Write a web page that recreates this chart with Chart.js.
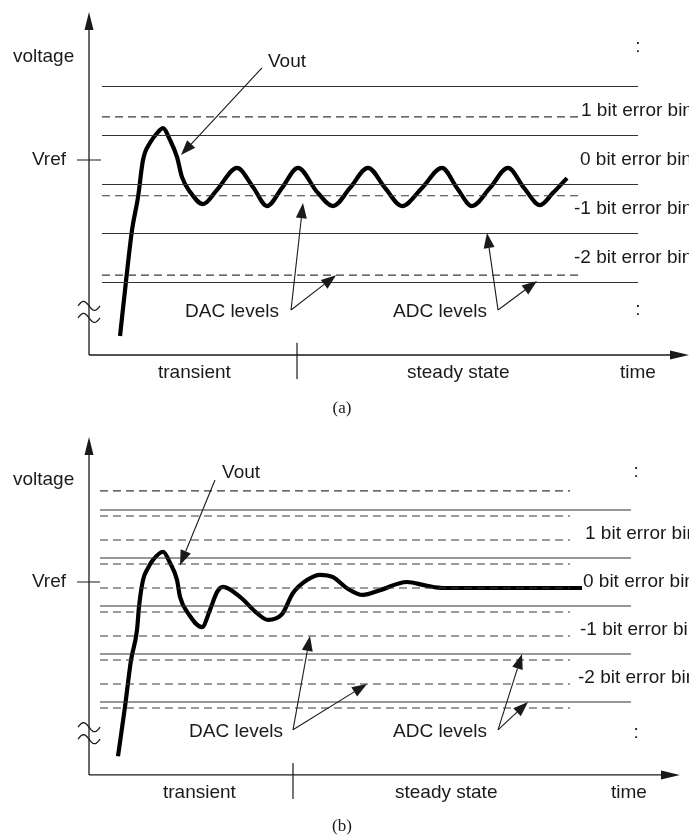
<!DOCTYPE html>
<html>
<head>
<meta charset="utf-8">
<script src="https://cdn.jsdelivr.net/npm/chart.js@4"></script>
<style>
  html, body { margin: 0; padding: 0; background: #fff; }
  canvas { display: block; }
</style>
</head>
<body>
<canvas id="chartA" width="689" height="420"></canvas>
<canvas id="chartB" width="689" height="419"></canvas>
<script>
// Levels in LSB relative to Vref
const adcLevels = [1.5, 0.5, -0.5, -1.5, -2.5];
const dacLevelsA = [0.88, -0.73, -2.35];
const dacLevelsB = [1.9, 1.375, 0.875, 0.375, -0.125, -0.625, -1.125, -1.625, -2.125, -2.625];

const binLabels = ['1 bit error bin', '0 bit error bin', '-1 bit error bin', '-2 bit error bin'];
const binValues = [1, 0, -1, -2];
const phaseLabels = ['transient', 'steady state', 'time'];

// Vout (a): ends up in a limit cycle around the DAC level
const voutTimeA = [5.17, 6.17, 7.17, 8.17, 9.0, 10.17, 11.5, 12.33, 13.5, 14.67, 15.5, 16.83, 19.0, 21.33, 24.67,
    27.33, 29.67, 32.17, 34.83, 38.0, 40.67, 43.5, 46.5, 49.33, 52.17, 55.5, 58.83, 61.33, 63.83, 66.83,
    69.83, 72.5, 75.17, 77.33, 79.67];
const voutA = [-3.59, -2.47, -1.43, -0.76, 0.0, 0.35, 0.57, 0.65, 0.41, 0.06, -0.35, -0.65, -0.90, -0.61, -0.16,
    -0.55, -0.94, -0.57, -0.16, -0.65, -0.94, -0.57, -0.16, -0.57, -0.94, -0.57, -0.16, -0.57, -0.94, -0.57,
    -0.16, -0.57, -0.92, -0.67, -0.37];

// Vout (b): settles on a DAC level
const voutTimeB = [4.83, 6.0, 7.0, 8.0, 8.33, 9.0, 9.83, 10.67, 12.33, 13.5, 14.67, 15.17, 16.5, 18.83, 20.17,
    21.33, 22.33, 25.17, 28.0, 29.83, 32.17, 34.0, 36.33, 38.5, 40.67, 43.0, 45.67, 48.5, 53.0, 56.33,
    59.0, 82.17];
const voutB = [-3.63, -2.60, -1.63, -1.0, -0.52, 0.04, 0.29, 0.46, 0.63, 0.40, 0.04, -0.31, -0.65, -0.94, -0.58,
    -0.21, -0.10, -0.31, -0.65, -0.79, -0.67, -0.23, 0.04, 0.15, 0.10, -0.13, -0.27, -0.17, 0.0, -0.08,
    -0.125, -0.125];

// Placement of axes, labels and arrows (data units)
const layouts = {
    chartA: {
        x: [-89 / 6, 100], y: [-260 / 49, 160 / 49],
        axis: { y0: -3.98, yTop: 3.02, xEnd: 100 },
        levels: { start: 2.17, solidEnd: 91.5, dashEnd: 81.8 },
        vref: [-2, 2],
        binX: [82.0, 81.83, 80.83, 80.83],
        colonX: 91.5, colonY: [2.31, -3.06],
        voltage: [-12.67, 2.10], vrefLabel: -3.83,
        vout: { label: [29.83, 2.0], from: [28.83, 1.88], to: [15.33, 0.10] },
        dac: { label: [16.0, -3.10], from: [33.67, -3.06], to: [[35.67, -0.88], [41.17, -2.35]] },
        adc: { label: [50.67, -3.10], from: [68.17, -3.06], to: [[66.33, -1.49], [74.67, -2.47]] },
        tick: { x: 34.67, y: [-3.73, -4.47] },
        phaseY: -4.35, phaseX: [11.5, 53.0, 88.5],
        caption: ['(a)', 42.17, -5.08],
        breakAt: [0, -3.10]
    },
    chartB: {
        x: [-89 / 6, 100], y: [-257 / 48, 162 / 48],
        axis: { y0: -4.02, yTop: 3.02, xEnd: 98.5 },
        levels: { start: 1.83, solidEnd: 90.33, dashEnd: 80.17 },
        vref: [-2, 1.83],
        binX: [82.67, 82.33, 81.83, 81.5],
        colonX: 91.17, colonY: [2.29, -3.15],
        voltage: [-12.67, 2.125], vrefLabel: -3.83,
        vout: { label: [22.17, 2.27], from: [21.0, 2.125], to: [15.17, 0.35] },
        dac: { label: [16.67, -3.125], from: [34.0, -3.08], to: [[36.83, -1.125], [46.33, -2.125]] },
        adc: { label: [50.67, -3.125], from: [68.17, -3.08], to: [[72.17, -1.5], [73.17, -2.5]] },
        tick: { x: 34.0, y: [-3.77, -4.52] },
        phaseY: -4.40, phaseX: [12.33, 51.0, 87.0],
        caption: ['(b)', 42.17, -5.10],
        breakAt: [0, -3.15]
    }
};

const INK = '#1a1a1a';
const SANS = '19px "Liberation Sans", Arial, sans-serif';

function drawArrow(ctx, x1, y1, x2, y2, len, half, width) {
    const a = Math.atan2(y2 - y1, x2 - x1);
    const bx = x2 - len * Math.cos(a), by = y2 - len * Math.sin(a);
    ctx.lineWidth = width;
    ctx.beginPath();
    ctx.moveTo(x1, y1);
    ctx.lineTo(bx, by);
    ctx.stroke();
    ctx.beginPath();
    ctx.moveTo(x2, y2);
    ctx.lineTo(bx + half * Math.sin(a), by - half * Math.cos(a));
    ctx.lineTo(bx - half * Math.sin(a), by + half * Math.cos(a));
    ctx.closePath();
    ctx.fill();
}

const diagramPlugin = {
    id: 'diagram',
    afterDatasetsDraw(chart) {
        const L = layouts[chart.canvas.id];
        const ctx = chart.ctx;
        const px = t => chart.scales.x.getPixelForValue(t);
        const py = v => chart.scales.y.getPixelForValue(v);
        ctx.save();
        ctx.strokeStyle = INK;
        ctx.fillStyle = INK;
        ctx.lineCap = 'butt';

        // axes
        const ox = px(0), oy = py(L.axis.y0);
        drawArrow(ctx, ox, oy, ox, py(L.axis.yTop), 18, 4.5, 1.3);
        drawArrow(ctx, ox, oy, px(L.axis.xEnd), oy, 19, 4.5, 1.3);

        // Vref tick and phase divider
        ctx.lineWidth = 1.2;
        ctx.beginPath();
        ctx.moveTo(px(L.vref[0]), py(0));
        ctx.lineTo(px(L.vref[1]), py(0));
        ctx.moveTo(px(L.tick.x), py(L.tick.y[0]));
        ctx.lineTo(px(L.tick.x), py(L.tick.y[1]));
        ctx.stroke();

        // axis break
        const bx = px(L.breakAt[0]), by = py(L.breakAt[1]);
        ctx.lineWidth = 1.3;
        [-6, 6].forEach(off => {
            ctx.beginPath();
            for (let i = -11; i <= 11; i++) {
                const yy = by + off + 4.5 * Math.sin(Math.PI * i / 11);
                if (i === -11) ctx.moveTo(bx + i, yy); else ctx.lineTo(bx + i, yy);
            }
            ctx.stroke();
        });

        // annotation arrows
        drawArrow(ctx, px(L.vout.from[0]), py(L.vout.from[1]), px(L.vout.to[0]), py(L.vout.to[1]), 15, 5.5, 1.1);
        [L.dac, L.adc].forEach(g => {
            g.to.forEach(p => drawArrow(ctx, px(g.from[0]), py(g.from[1]), px(p[0]), py(p[1]), 15, 5.5, 1.1));
        });

        // text
        ctx.font = SANS;
        ctx.textBaseline = 'middle';
        ctx.textAlign = 'left';
        ctx.fillText('voltage', px(L.voltage[0]), py(L.voltage[1]));
        ctx.fillText('Vout', px(L.vout.label[0]), py(L.vout.label[1]));
        ctx.fillText('DAC levels', px(L.dac.label[0]), py(L.dac.label[1]));
        ctx.fillText('ADC levels', px(L.adc.label[0]), py(L.adc.label[1]));
        binLabels.forEach((s, i) => ctx.fillText(s, px(L.binX[i]), py(binValues[i])));
        phaseLabels.forEach((s, i) => ctx.fillText(s, px(L.phaseX[i]), py(L.phaseY)));
        ctx.textAlign = 'right';
        ctx.fillText('Vref', px(L.vrefLabel), py(0));
        ctx.textAlign = 'center';
        L.colonY.forEach(v => ctx.fillText(':', px(L.colonX), py(v)));
        ctx.font = '17px "Liberation Serif", "Times New Roman", serif';
        ctx.fillText(L.caption[0], px(L.caption[1]), py(L.caption[2]));
        ctx.restore();
    }
};

function levelSet(v, x0, x1, dashed) {
    return {
        data: [{ x: x0, y: v }, { x: x1, y: v }],
        showLine: true,
        borderColor: dashed ? '#3a3a3a' : '#333',
        borderWidth: 1.2,
        borderDash: dashed ? [8, 5] : [],
        pointRadius: 0,
        clip: false
    };
}

function makePanel(id, dacLevels, times, vout) {
    const L = layouts[id];
    const datasets = [];
    adcLevels.forEach(v => datasets.push(levelSet(v, L.levels.start, L.levels.solidEnd, false)));
    dacLevels.forEach(v => datasets.push(levelSet(v, L.levels.start, L.levels.dashEnd, true)));
    datasets.push({
        data: times.map((t, i) => ({ x: t, y: vout[i] })),
        showLine: true,
        borderColor: '#000',
        borderWidth: 4.2,
        cubicInterpolationMode: 'monotone',
        borderCapStyle: 'butt',
        borderJoinStyle: 'round',
        pointRadius: 0,
        clip: false
    });

    return new Chart(document.getElementById(id).getContext('2d'), {
        type: 'scatter',
        data: { datasets },
        options: {
            responsive: false,
            animation: false,
            events: [],
            layout: { padding: 0 },
            plugins: { legend: { display: false }, tooltip: { enabled: false } },
            scales: {
                x: { type: 'linear', min: L.x[0], max: L.x[1], display: false },
                y: { type: 'linear', min: L.y[0], max: L.y[1], display: false }
            }
        },
        plugins: [diagramPlugin]
    });
}

makePanel('chartA', dacLevelsA, voutTimeA, voutA);
makePanel('chartB', dacLevelsB, voutTimeB, voutB);
</script>
</body>
</html>
